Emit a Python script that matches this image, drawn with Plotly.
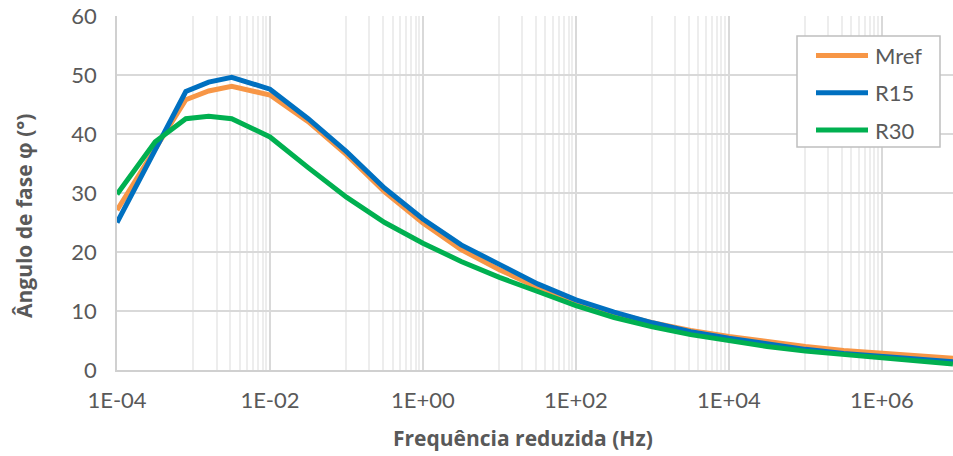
import plotly.graph_objects as go

# Reduced frequency (Hz)
freq = [1e-4, 3.16e-4, 7.94e-4, 1.58e-3, 3.16e-3, 1e-2, 3.16e-2, 1e-1, 3.16e-1,
        1e0, 3.16e0, 1e1, 3.16e1, 1e2, 3.16e2, 1e3, 3.16e3, 1e4, 3.16e4,
        1e5, 3.16e5, 1e6, 3.16e6, 8.5e6]

# Phase angle (degrees)
mref = [27.1, 37.5, 45.8, 47.3, 48.1, 46.6, 42.1, 36.5, 30.2,
        24.9, 20.4, 17.0, 14.0, 11.5, 9.6, 8.0, 6.7, 5.7, 4.8,
        4.0, 3.3, 2.8, 2.4, 2.0]
r15 = [25.0, 37.3, 47.2, 48.8, 49.6, 47.6, 42.6, 37.0, 30.8,
       25.6, 21.2, 17.9, 14.6, 11.9, 9.8, 8.0, 6.5, 5.4, 4.4,
       3.5, 2.8, 2.3, 1.8, 1.4]
r30 = [29.8, 38.7, 42.6, 43.0, 42.6, 39.5, 34.3, 29.3, 25.0,
       21.5, 18.4, 15.7, 13.3, 10.9, 8.9, 7.3, 6.0, 4.9, 4.0,
       3.2, 2.6, 2.0, 1.5, 1.0]

series = [("Mref", mref, "#F79646"), ("R15", r15, "#0070C0"), ("R30", r30, "#00B050")]

x_ticks = [1e-4, 1e-2, 1e0, 1e2, 1e4, 1e6]
x_tick_text = ["1E-04", "1E-02", "1E+00", "1E+02", "1E+04", "1E+06"]
y_ticks = [0, 10, 20, 30, 40, 50, 60]

# light minor grid in every other decade (1..9 x 10^odd)
minor_vals = [m * 10.0 ** e for e in (-3, -1, 1, 3, 5) for m in range(1, 10)]

W, H = 953, 456
ML, MR, MT, MB = 117, 0, 16, 86
PW, PH = W - ML - MR, H - MT - MB

FONT = "Lato, 'Open Sans', sans-serif"
TITLE_FONT = "'Open Sans', Lato, sans-serif"
GREY = "#595959"


def px(x):
    """pixel column -> paper x"""
    return (x - ML) / PW


def py(y):
    """pixel row -> paper y"""
    return (H - MB - y) / PH


fig = go.Figure()
for name, vals, color in series:
    fig.add_trace(go.Scatter(
        x=freq, y=vals, name=name, mode="lines",
        line=dict(color=color, width=5),
    ))

# boxed legend in the upper right
shapes = [dict(type="rect", xref="paper", yref="paper",
               x0=px(797), x1=px(940), y0=py(36), y1=py(147),
               line=dict(color="#BFBFBF", width=1.5), fillcolor="white", layer="above")]
annotations = []
for k, (name, _, color) in enumerate(series):
    row = 55.5 + 37.3 * k
    shapes.append(dict(type="line", xref="paper", yref="paper",
                       x0=px(816), x1=px(868), y0=py(row), y1=py(row),
                       line=dict(color=color, width=5), layer="above"))
    annotations.append(dict(text=name, xref="paper", yref="paper",
                            x=px(873), y=py(row), xanchor="left", yanchor="middle",
                            showarrow=False, font=dict(family=FONT, size=22, color=GREY)))

# axis titles
annotations.append(dict(text="<b>Frequência reduzida (Hz)</b>", xref="paper", yref="paper",
                        x=px(523), y=py(438), xanchor="center", yanchor="middle",
                        showarrow=False, font=dict(family=TITLE_FONT, size=21, color=GREY)))
annotations.append(dict(text="<b>Ângulo de fase φ (°)</b>", xref="paper", yref="paper",
                        x=px(24), y=py(216), xanchor="center", yanchor="middle",
                        textangle=-90, showarrow=False,
                        font=dict(family=TITLE_FONT, size=21, color=GREY)))

fig.update_layout(
    width=W, height=H,
    margin=dict(l=ML, r=MR, t=MT, b=MB),
    paper_bgcolor="white", plot_bgcolor="white",
    font=dict(family=FONT, size=22, color=GREY),
    showlegend=False,
    shapes=shapes, annotations=annotations,
)

fig.update_xaxes(
    type="log", range=[-4, 6.93],
    tickvals=x_ticks, ticktext=x_tick_text,
    tickfont=dict(family=FONT, size=22, color=GREY),
    showgrid=True, gridcolor="#D9D9D9", gridwidth=1.5,
    ticks="outside", ticklen=10, tickcolor="rgba(0,0,0,0)",
    showline=True, linecolor="#D0D0D0", linewidth=1.5,
    minor=dict(tickmode="array", tickvals=minor_vals, showgrid=True,
               gridcolor="#EDEDED", gridwidth=1.5, ticks=""),
    zeroline=False,
)
fig.update_yaxes(
    range=[0, 60], tickvals=y_ticks,
    tickfont=dict(family=FONT, size=22, color=GREY),
    showgrid=True, gridcolor="#D9D9D9", gridwidth=1.5,
    ticks="outside", ticklen=14, tickcolor="rgba(0,0,0,0)",
    showline=True, linecolor="#D0D0D0", linewidth=1.5,
    zeroline=False,
)

fig.write_html("out.html")
